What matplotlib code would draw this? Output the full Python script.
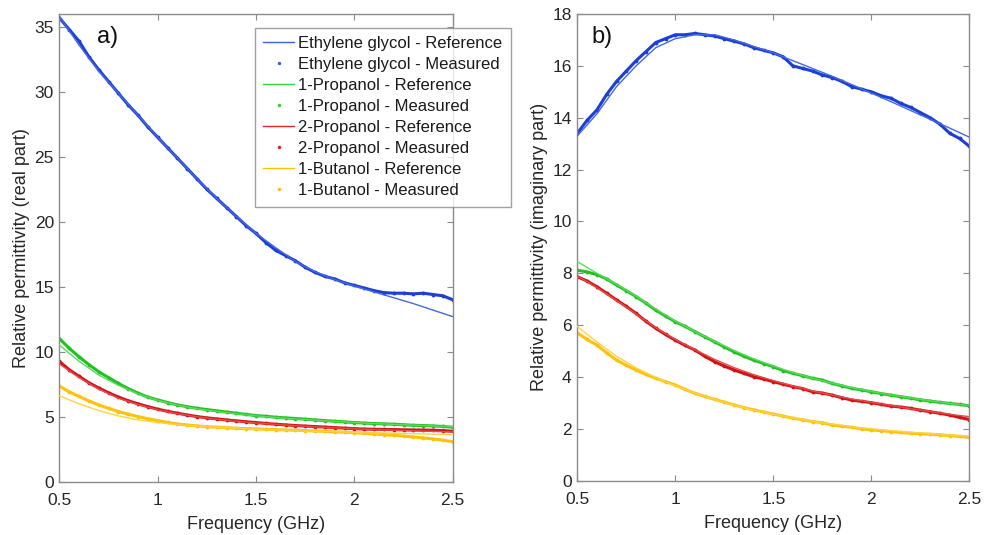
import numpy as np
import matplotlib
matplotlib.use("Agg")
import matplotlib.pyplot as plt
from matplotlib.lines import Line2D

plt.rcParams["font.family"] = ["Liberation Sans", "DejaVu Sans"]

# ---------------------------------------------------------------------------
# Data
# ---------------------------------------------------------------------------
f_ref = np.round(np.arange(0.5, 2.501, 0.1), 2)    # 21 points
f_meas = np.round(np.arange(0.5, 2.501, 0.05), 2)  # 41 points

labels = ["Ethylene glycol", "1-Propanol", "2-Propanol", "1-Butanol"]

# real part -- reference
eg_re_ref = [35.8, 33.6, 31.6, 29.9, 28.2, 26.5, 24.9, 23.3, 21.8, 20.4, 19.1,
             18.0, 16.95, 16.15, 15.55, 15.05, 14.6, 14.15, 13.7, 13.2, 12.7]
p1_re_ref = [10.5, 9.25, 8.2, 7.4, 6.75, 6.25, 5.88, 5.6, 5.4, 5.22, 5.06,
             4.93, 4.82, 4.72, 4.63, 4.54, 4.46, 4.4, 4.34, 4.28, 4.22]
p2_re_ref = [9.05, 8.0, 7.12, 6.42, 5.92, 5.52, 5.22, 4.98, 4.79, 4.64, 4.51,
             4.4, 4.3, 4.21, 4.13, 4.06, 4.0, 3.95, 3.9, 3.86, 3.82]
bu_re_ref = [6.6, 5.98, 5.46, 5.05, 4.74, 4.54, 4.38, 4.28, 4.18, 4.1, 4.02,
             3.97, 3.92, 3.87, 3.84, 3.79, 3.75, 3.72, 3.68, 3.64, 3.6]

# real part -- measured
eg_re_meas = [35.7, 34.8, 33.9, 32.7, 31.7, 30.8, 29.9, 29.0, 28.2, 27.3,
              26.5, 25.7, 24.9, 24.1, 23.3, 22.5, 21.8, 21.1, 20.4, 19.7,
              19.1, 18.4, 17.8, 17.4, 17.0, 16.5, 16.1, 15.8, 15.6, 15.3,
              15.1, 14.9, 14.7, 14.55, 14.5, 14.5, 14.45, 14.5, 14.4, 14.3, 14.0]
p1_re_meas = [11.0, 10.25, 9.6, 9.0, 8.45, 8.0, 7.55, 7.15, 6.8, 6.5,
              6.28, 6.08, 5.9, 5.76, 5.64, 5.54, 5.44, 5.35, 5.26, 5.16,
              5.08, 5.02, 4.95, 4.9, 4.85, 4.8, 4.74, 4.69, 4.64, 4.59,
              4.54, 4.5, 4.46, 4.44, 4.41, 4.37, 4.33, 4.31, 4.28, 4.24, 4.18]
p2_re_meas = [9.25, 8.6, 8.1, 7.6, 7.2, 6.83, 6.5, 6.22, 5.98, 5.76,
              5.57, 5.4, 5.26, 5.12, 5.0, 4.9, 4.82, 4.74, 4.67, 4.6,
              4.54, 4.47, 4.41, 4.36, 4.31, 4.27, 4.23, 4.19, 4.15, 4.11,
              4.07, 4.04, 4.02, 4.01, 4.0, 3.98, 3.97, 3.96, 3.95, 3.92, 3.87]
bu_re_meas = [7.35, 6.9, 6.55, 6.2, 5.9, 5.63, 5.39, 5.18, 5.0, 4.83,
              4.69, 4.55, 4.43, 4.35, 4.28, 4.22, 4.18, 4.14, 4.1, 4.07,
              4.05, 4.02, 4.0, 3.97, 3.95, 3.92, 3.89, 3.86, 3.82, 3.8,
              3.77, 3.72, 3.66, 3.61, 3.56, 3.5, 3.43, 3.36, 3.28, 3.18, 3.07]

# imaginary part -- reference
eg_im_ref = [13.3, 14.15, 15.2, 16.0, 16.7, 17.05, 17.2, 17.2, 17.0, 16.75, 16.5,
             16.2, 15.9, 15.6, 15.28, 14.95, 14.62, 14.28, 13.94, 13.6, 13.25]
p1_im_ref = [8.45, 8.0, 7.58, 7.12, 6.62, 6.16, 5.75, 5.38, 5.02, 4.7, 4.42,
             4.17, 3.95, 3.76, 3.59, 3.44, 3.31, 3.19, 3.08, 2.98, 2.9]
p2_im_ref = [7.9, 7.45, 6.95, 6.43, 5.9, 5.45, 5.05, 4.68, 4.36, 4.09, 3.86,
             3.65, 3.46, 3.3, 3.15, 3.02, 2.9, 2.78, 2.67, 2.56, 2.47]
bu_im_ref = [5.95, 5.35, 4.8, 4.35, 3.98, 3.66, 3.38, 3.13, 2.91, 2.72, 2.56,
             2.42, 2.29, 2.18, 2.08, 2.0, 1.93, 1.87, 1.81, 1.76, 1.72]

# imaginary part -- measured
eg_im_meas = [13.4, 13.9, 14.3, 14.9, 15.4, 15.8, 16.2, 16.55, 16.9, 17.05,
              17.2, 17.2, 17.25, 17.2, 17.15, 17.05, 16.95, 16.85, 16.7, 16.6,
              16.5, 16.35, 16.0, 15.9, 15.8, 15.65, 15.55, 15.4, 15.2, 15.1,
              15.0, 14.85, 14.75, 14.55, 14.4, 14.2, 14.0, 13.75, 13.4, 13.2, 12.9]
p1_im_meas = [8.12, 8.05, 7.95, 7.78, 7.55, 7.33, 7.1, 6.85, 6.58, 6.35,
              6.13, 5.95, 5.75, 5.55, 5.36, 5.16, 4.97, 4.8, 4.65, 4.52,
              4.4, 4.25, 4.14, 4.05, 3.95, 3.88, 3.75, 3.66, 3.56, 3.5,
              3.43, 3.36, 3.3, 3.24, 3.18, 3.12, 3.07, 3.02, 2.98, 2.94, 2.89]
p2_im_meas = [7.87, 7.7, 7.48, 7.23, 6.97, 6.72, 6.45, 6.15, 5.88, 5.64,
              5.42, 5.22, 5.04, 4.8, 4.59, 4.42, 4.27, 4.14, 4.01, 3.92,
              3.82, 3.72, 3.63, 3.55, 3.43, 3.38, 3.3, 3.2, 3.11, 3.06,
              3.01, 2.94, 2.88, 2.84, 2.79, 2.72, 2.66, 2.6, 2.53, 2.44, 2.36]
bu_im_meas = [5.7, 5.45, 5.23, 4.93, 4.65, 4.45, 4.27, 4.1, 3.95, 3.82,
              3.69, 3.52, 3.37, 3.25, 3.14, 3.03, 2.92, 2.82, 2.73, 2.65,
              2.57, 2.49, 2.41, 2.35, 2.28, 2.24, 2.15, 2.1, 2.06, 2.0,
              1.96, 1.93, 1.89, 1.86, 1.83, 1.81, 1.79, 1.77, 1.74, 1.71, 1.67]

meas_colors = ["#1c3fd4", "#1fc21f", "#d01414", "#ffc20a"]
ref_colors = ["#4468e4", "#5fd85f", "#e84a4a", "#ffd24a"]
leg_colors = ["#3a5fe0", "#3ccf3c", "#e02424", "#ffc000"]

# ---------------------------------------------------------------------------
# Figure
# ---------------------------------------------------------------------------
fig = plt.figure(figsize=(9.86, 5.35), dpi=100)
ax1 = fig.add_axes([0.0603, 0.1000, 0.3988, 0.8738])
ax2 = fig.add_axes([0.5855, 0.1015, 0.3976, 0.8723])

panels = [
    (ax1, [eg_re_ref, p1_re_ref, p2_re_ref, bu_re_ref],
     [eg_re_meas, p1_re_meas, p2_re_meas, bu_re_meas],
     "Relative permittivity (real part)", 36, np.arange(0, 36, 5), "a)", 0.123),
    (ax2, [eg_im_ref, p1_im_ref, p2_im_ref, bu_im_ref],
     [eg_im_meas, p1_im_meas, p2_im_meas, bu_im_meas],
     "Relative permittivity (imaginary part)", 18, np.arange(0, 19, 2), "b)", 0.062),
]

for ax, refs, meas, ylab, ytop, yticks, tag, tagx in panels:
    for r, m, cm, cr in zip(refs, meas, meas_colors, ref_colors):
        ax.plot(f_meas, m, "-", color=cm, lw=2.2, zorder=2)
        ax.plot(f_meas, m, ".", color=cm, ms=3.5, zorder=2)
        ax.plot(f_ref, r, "-", color=cr, lw=1.0, zorder=3)
    ax.set_xlim(0.5, 2.5)
    ax.set_ylim(0, ytop)
    ax.set_xticks([0.5, 1, 1.5, 2, 2.5])
    ax.set_xticklabels(["0.5", "1", "1.5", "2", "2.5"])
    ax.set_yticks(yticks)
    ax.tick_params(direction="in", length=4, width=0.8, top=True, right=True,
                   labelsize=12.5, colors="#8a8a8a", labelcolor="#262626")
    ax.tick_params(axis="x", pad=8)
    ax.tick_params(axis="y", pad=4)
    for sp in ax.spines.values():
        sp.set_color("#8a8a8a")
        sp.set_linewidth(1.0)
    ax.set_xlabel("Frequency (GHz)", fontsize=13, color="#262626", labelpad=6)
    ax.set_ylabel(ylab, fontsize=13, color="#262626", labelpad=3)
    ax.text(tagx, 0.951, tag, transform=ax.transAxes, fontsize=17,
            ha="center", va="center", color="#111111")

# legend (proxy handles)
handles = []
names = []
for lab, c in zip(labels, leg_colors):
    handles.append(Line2D([], [], color=c, lw=1.0))
    names.append(f"{lab} - Reference")
    handles.append(Line2D([], [], color=c, marker=".", ls="none", ms=3))
    names.append(f"{lab} - Measured")

leg = fig.legend(handles, names, loc="upper left",
                 bbox_to_anchor=(0.2586, 0.9477), fontsize=12,
                 frameon=True, fancybox=False, edgecolor="#8a8a8a",
                 handlelength=1.85, handletextpad=0.25, labelspacing=0.36,
                 borderpad=0.5, borderaxespad=0.0)
leg.get_frame().set_linewidth(1.0)
for t in leg.get_texts():
    t.set_color("#1a1a1a")

fig.savefig("out.png", dpi=100)
